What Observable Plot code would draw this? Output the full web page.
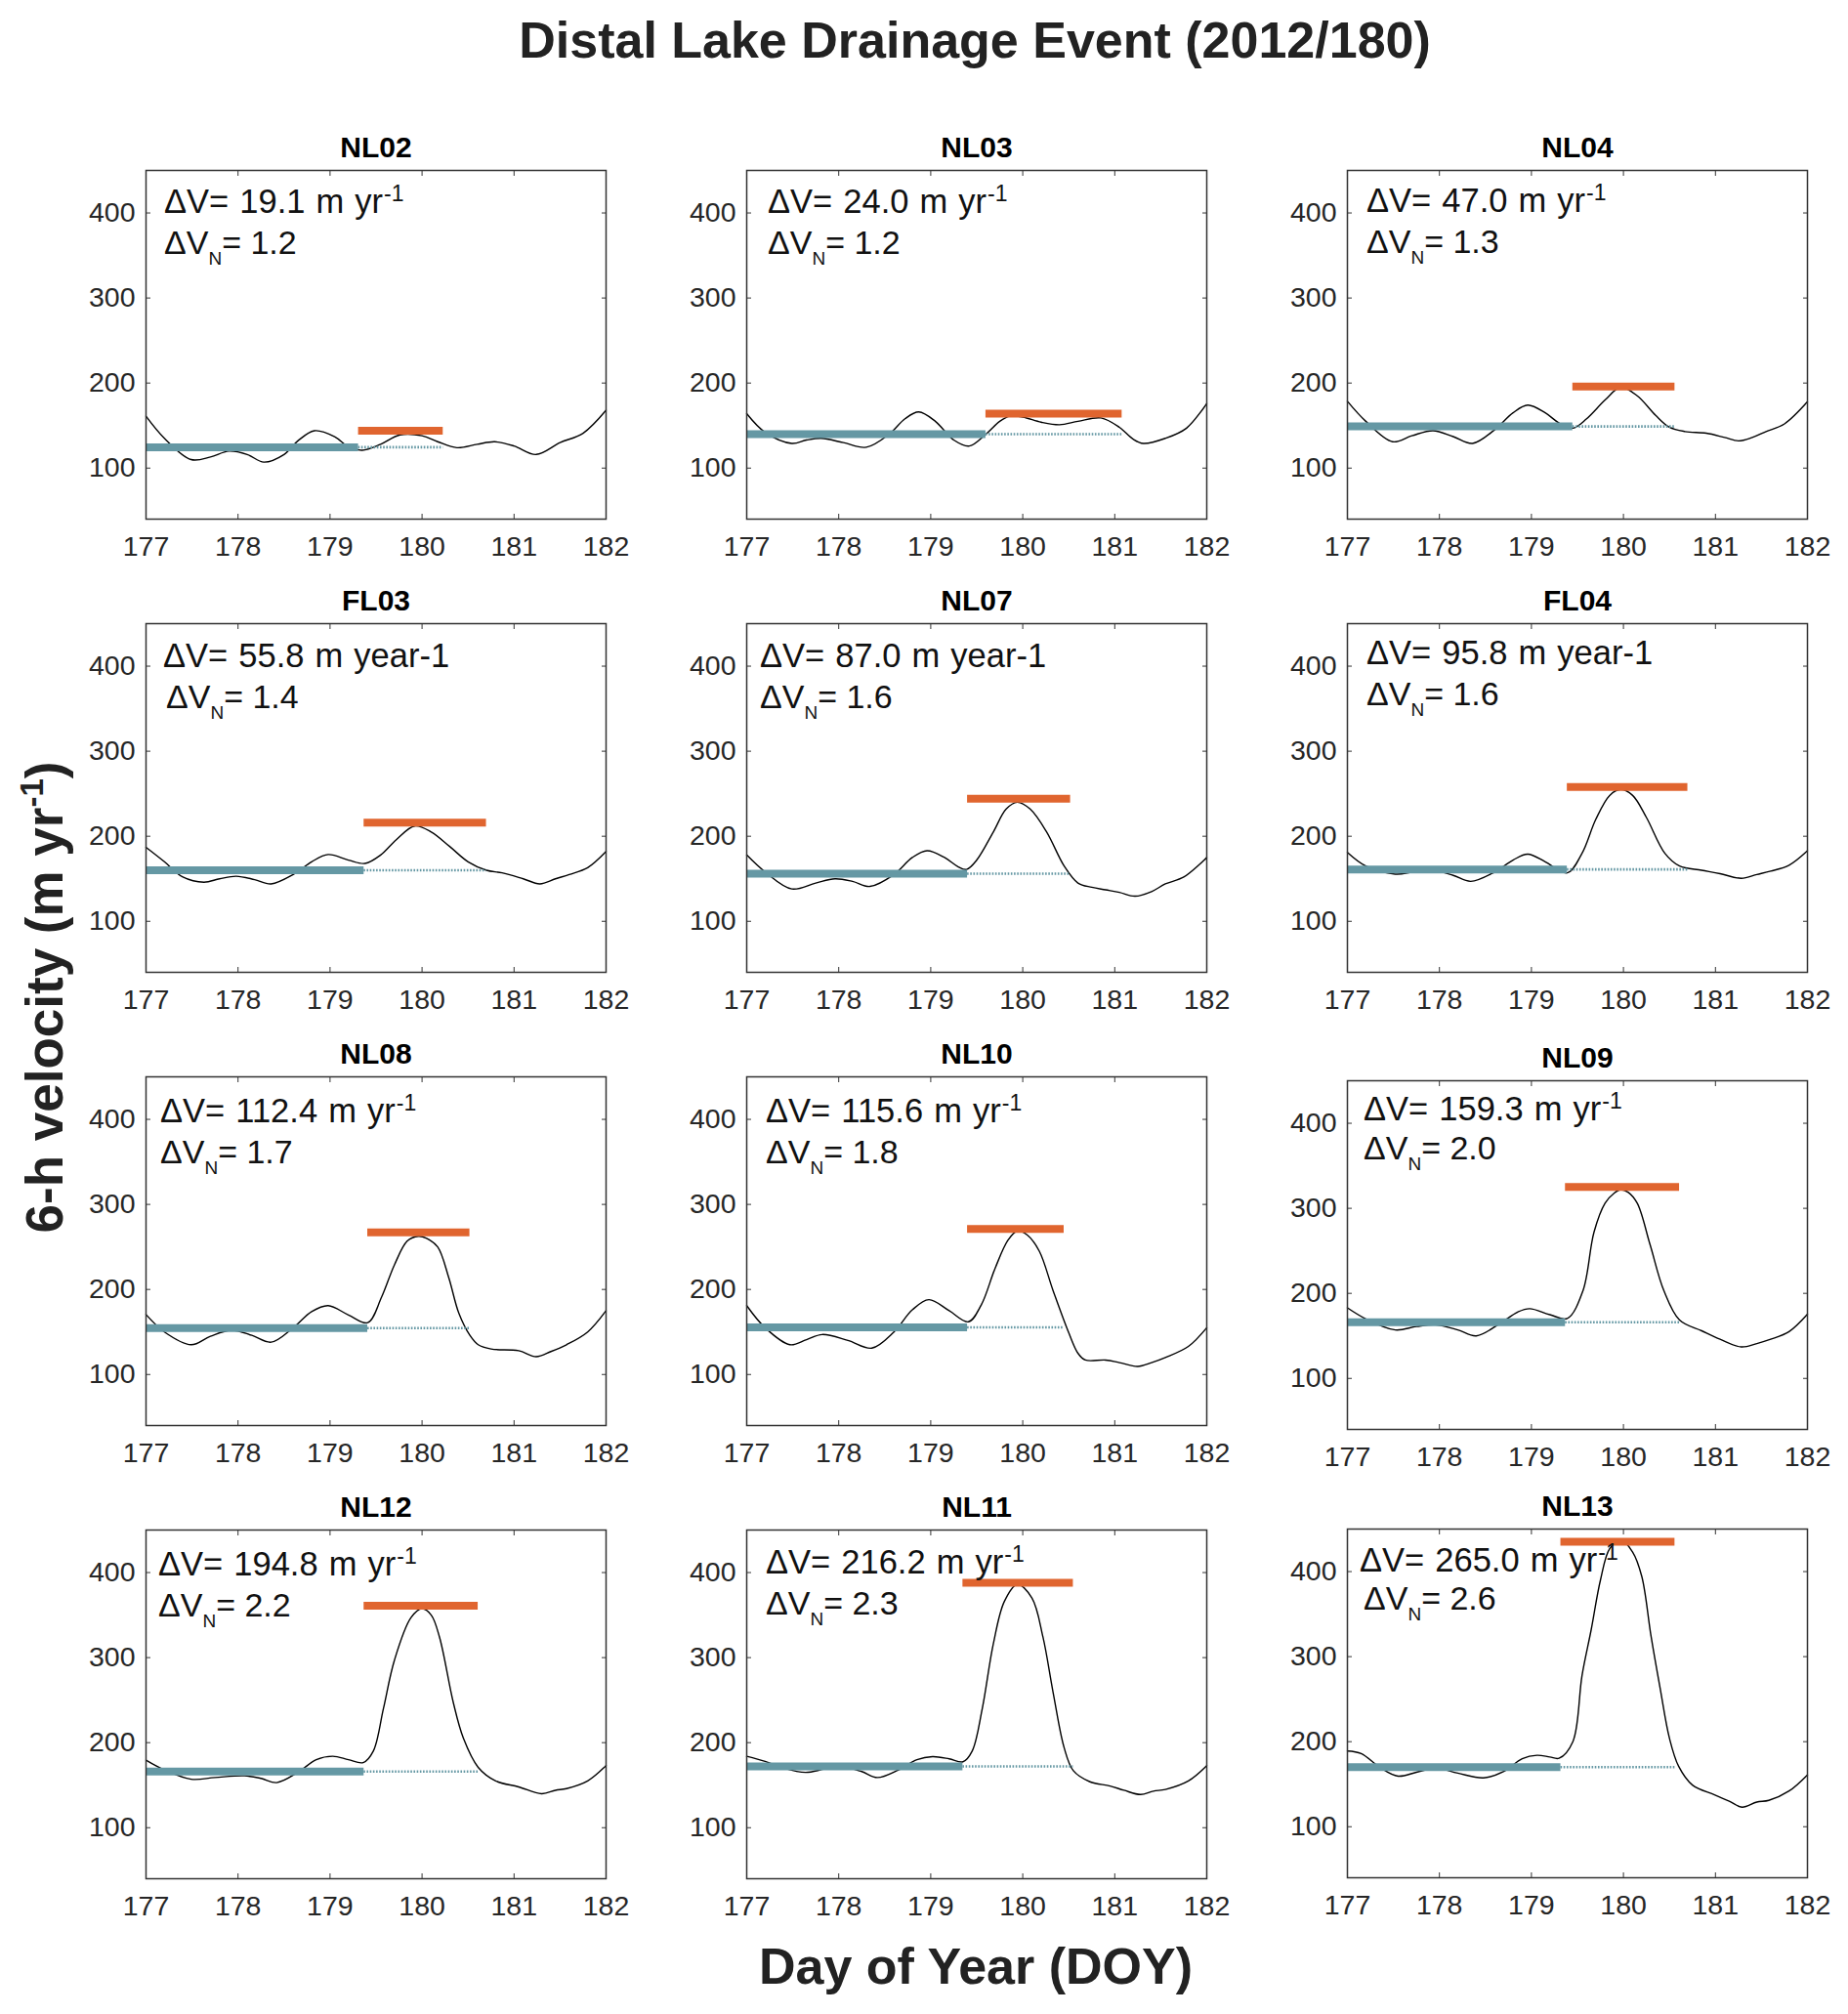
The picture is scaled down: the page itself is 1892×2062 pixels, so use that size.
<!DOCTYPE html>
<html>
<head>
<meta charset="utf-8">
<script src="https://cdn.jsdelivr.net/npm/d3@7"></script>
<script src="https://cdn.jsdelivr.net/npm/@observablehq/plot@0.6"></script>
<style>
  body { margin: 0; background: #fff; }
  #root { position: relative; width: 1892px; height: 2062px; background: #fff; overflow: hidden;
          font-family: "Liberation Sans", Arial, Helvetica, sans-serif; }
  #root svg { position: absolute; overflow: visible; }
</style>
</head>
<body>
<div id="root"></div>
<script>
// ---------------- DATA ----------------
const stations = ["NL02", "NL03", "NL04", "FL03", "NL07", "FL04", "NL08", "NL10", "NL09", "NL12", "NL11", "NL13"];
const dvText   = ["19.1", "24.0", "47.0", "55.8", "87.0", "95.8", "112.4", "115.6", "159.3", "194.8", "216.2", "265.0"];
const dvnText  = ["1.2", "1.2", "1.3", "1.4", "1.6", "1.6", "1.7", "1.8", "2.0", "2.2", "2.3", "2.6"];
const unitMain = ["m yr", "m yr", "m yr", "m year-1", "m year-1", "m year-1", "m yr", "m yr", "m yr", "m yr", "m yr", "m yr"];
const unitSup  = ["-1", "-1", "-1", "", "", "", "-1", "-1", "-1", "-1", "-1", "-1"];

// background (pre-event) mean velocity, event window and peak velocity
const startDay = [177, 177, 177, 177, 177, 177, 177, 177, 177, 177, 177, 177];
const splitDay = [179.31, 179.6, 179.45, 179.37, 179.4, 179.39, 179.41, 179.4, 179.37, 179.37, 179.35, 179.32];
const endDay   = [180.23, 181.08, 180.56, 180.7, 180.52, 180.7, 180.52, 180.45, 180.61, 180.61, 180.55, 180.56];
const baseVel  = [124.5, 140, 149, 160, 156, 161, 154.5, 155.5, 166, 166, 172, 170];
const peakVel  = [144, 164, 196, 216, 244, 258, 267, 271, 325, 361, 388, 435];

// 6-h velocity series [DOY, m/yr]
const NL02 = [[177,161],[177.2,135],[177.49,110],[177.7,113],[177.9,120],[178.1,116],[178.28,107],[178.5,116],[178.65,132],[178.83,144],[179.05,137],[179.2,125],[179.35,121],[179.55,128],[179.76,139],[180,138],[180.17,131],[180.38,124],[180.6,128],[180.79,131],[181,126],[181.24,116],[181.5,130],[181.75,141],[182,168]];
const NL03 = [[177,164],[177.2,142],[177.49,129],[177.65,133],[177.81,135],[178.05,130],[178.3,124.5],[178.55,140],[178.72,158],[178.87,166],[179.05,155],[179.25,133],[179.42,126],[179.6,140],[179.75,155],[179.86,161],[180,160],[180.2,154],[180.4,151],[180.6,155],[180.85,159],[181.05,148],[181.2,134],[181.31,129],[181.55,135],[181.78,147],[182,176]];
const NL04 = [[177,178.5],[177.2,155],[177.49,131],[177.7,138],[177.93,144],[178.15,137],[178.36,129],[178.6,145],[178.8,165],[178.96,174],[179.15,165],[179.3,153],[179.45,147],[179.6,158],[179.8,180],[179.97,195],[180.15,185],[180.35,162],[180.5,148],[180.67,143],[180.9,141],[181.1,136],[181.25,132],[181.4,136],[181.55,143],[181.75,152],[182,178]];
const FL03 = [[177,187],[177.2,170],[177.4,152],[177.63,146],[177.8,150],[177.98,153],[178.18,149],[178.36,144],[178.6,155],[178.8,170],[178.98,178.5],[179.2,172],[179.38,168],[179.55,178],[179.72,196],[179.92,212],[180.1,205],[180.3,188],[180.5,170],[180.7,160],[180.87,157],[181.1,150],[181.28,144],[181.45,150],[181.6,155],[181.8,163],[182,182]];
const NL07 = [[177,178],[177.2,158],[177.49,138],[177.75,145],[177.96,150],[178.15,147],[178.34,141],[178.6,155],[178.8,175],[178.96,183],[179.15,175],[179.3,164],[179.39,161],[179.5,172],[179.68,205],[179.82,232],[179.94,240],[180.08,232],[180.26,205],[180.45,165],[180.6,145],[180.75,140],[180.9,137],[181.05,134],[181.22,129.5],[181.4,135],[181.55,144],[181.75,152],[182,175]];
const FL04 = [[177,181],[177.2,165],[177.52,155.5],[177.72,158],[177.93,160],[178.15,154],[178.34,147],[178.6,158],[178.8,172],[178.96,179],[179.15,170],[179.39,157],[179.55,180],[179.7,220],[179.85,248],[179.97,255],[180.1,248],[180.25,222],[180.45,180],[180.61,165],[180.85,160],[181.05,156],[181.28,150.5],[181.45,155],[181.6,159],[181.8,166],[182,183]];
const NL08 = [[177,170.5],[177.2,150],[177.49,135],[177.7,145],[177.93,152],[178.15,146],[178.36,138],[178.6,155],[178.8,174],[178.98,181],[179.2,170],[179.41,161],[179.56,191],[179.7,229],[179.84,257],[179.96,262.5],[180.05,260],[180.17,250],[180.29,214],[180.4,172],[180.52,146],[180.61,135],[180.75,130],[181.05,128],[181.24,121],[181.4,127],[181.57,135],[181.8,150],[182,175]];
const NL10 = [[177,181],[177.2,155],[177.47,135],[177.65,141],[177.82,147],[178.1,140],[178.36,131],[178.6,150],[178.8,176],[178.98,188],[179.2,175],[179.41,162],[179.55,182],[179.7,225],[179.84,258],[179.94,268.5],[180.05,264],[180.18,245],[180.33,198.5],[180.5,149],[180.6,125],[180.68,117],[180.9,117],[181.05,114],[181.25,109.5],[181.4,114],[181.55,120],[181.8,133],[182,155]];
const NL09 = [[177,183],[177.2,170],[177.52,157],[177.75,161],[177.96,163],[178.2,157],[178.4,150],[178.65,164],[178.85,178],[178.98,182],[179.2,175],[179.39,170.5],[179.56,203],[179.68,272],[179.8,306],[179.9,318],[179.97,322],[180.05,319],[180.15,306],[180.29,257],[180.44,203],[180.61,168.5],[180.85,156],[181.05,146],[181.28,137],[181.45,141],[181.6,146],[181.8,155],[182,175.5]];
const NL12 = [[177,179.5],[177.2,168],[177.49,157],[177.75,159],[178.07,161],[178.25,158],[178.42,153],[178.65,165],[178.85,180],[179.03,184],[179.2,180],[179.36,176.5],[179.47,190],[179.58,240],[179.7,297],[179.88,347],[180,357.5],[180.1,350],[180.19,324],[180.34,247],[180.45,205],[180.61,171],[180.8,155],[181.05,148],[181.3,140],[181.45,144],[181.57,146],[181.8,155],[182,173]];
const NL11 = [[177,184],[177.2,178],[177.4,170],[177.64,165],[177.85,169],[178.05,171.5],[178.25,166],[178.42,159],[178.65,168],[178.85,180],[179.02,183.5],[179.2,181],[179.35,177.5],[179.45,190],[179.56,240],[179.68,316],[179.8,366],[179.94,386],[180.1,370],[180.22,324],[180.33,259],[180.45,194],[180.55,167],[180.73,154],[180.95,149],[181.1,144],[181.28,139],[181.42,143],[181.55,145],[181.8,155],[182,173]];
const NL13 = [[177,189],[177.15,186],[177.35,170],[177.55,159.5],[177.75,164],[177.96,169],[178.2,163],[178.48,157.5],[178.7,165],[178.9,180],[179.06,184],[179.2,182],[179.3,180.5],[179.45,200],[179.55,278],[179.65,332],[179.75,390],[179.85,427],[179.97,437],[180.1,423],[180.2,394],[180.3,324],[180.4,262],[180.5,204],[180.6,171],[180.75,149],[180.99,137.5],[181.15,130],[181.29,123],[181.45,129],[181.58,131],[181.8,142],[182,161]];
const series = [NL02, NL03, NL04, FL03, NL07, FL04, NL08, NL10, NL09, NL12, NL11, NL13];

const xTicks = [177, 178, 179, 180, 181, 182];
const yTicks = [100, 200, 300, 400];
const xDomain = [177, 182];
const yDomain = [40, 450];

// ---------------- LAYOUT / STYLE ----------------
const teal = "#6598a4", orange = "#e0652f";
const FONT = '"Liberation Sans", Arial, Helvetica, sans-serif';
const colLeft = [149, 764, 1379];
const rowTop = [174, 638, 1102, 1566];
const topShift = [0, 0, 0, 0, 0, 0, 0, 0, 4, 0, 0, -1];
const PW = 471, PH = 357;
const mL = 90, mR = 30, mT = 60, mB = 60;
// annotation offsets (px from plot frame)
const ann1x = [19, 22, 20, 18, 14, 20, 15, 20, 17, 13, 20, 13];
const ann2x = [19, 22, 20, 21, 14, 20, 15, 20, 17, 13, 20, 17];
const ann1y = [44, 44, 43, 45, 45, 42, 47, 47, 41, 47, 45, 44];
const ann2y = [86, 86, 85, 87, 87, 84, 89, 89, 81, 89, 87, 83];

const root = document.getElementById("root");

stations.forEach((name, i) => {
  const col = i % 3, row = Math.floor(i / 3);
  const bar = [{start: startDay[i], split: splitDay[i], end: endDay[i], base: baseVel[i], peak: peakVel[i]}];
  const pts = series[i].map(([d, v]) => ({d, v}));
  const svg = Plot.plot({
    width: PW + mL + mR,
    height: PH + mT + mB,
    marginLeft: mL, marginRight: mR, marginTop: mT, marginBottom: mB,
    x: {domain: xDomain},
    y: {domain: yDomain},
    style: {fontFamily: FONT, fontSize: "28px", color: "#262626", background: "transparent", overflow: "visible"},
    marks: [
      Plot.line(pts, {x: "d", y: "v", curve: "catmull-rom", stroke: "#000", strokeWidth: 1.4}),
      Plot.ruleY(bar, {y: "base", x1: "split", x2: "end", stroke: teal, strokeWidth: 2.6, strokeDasharray: "1.6,1.6"}),
      Plot.ruleY(bar, {y: "base", x1: "start", x2: "split", stroke: teal, strokeWidth: 8}),
      Plot.ruleY(bar, {y: "peak", x1: "split", x2: "end", stroke: orange, strokeWidth: 8}),
      Plot.axisX({ticks: xTicks, tickSize: 0, tickPadding: 17, tickFormat: d => String(d), label: null, fontSize: 28.5}),
      Plot.axisY({ticks: yTicks, tickSize: 0, tickPadding: 11, tickFormat: d => String(d), label: null, fontSize: 28.5}),
      Plot.axisX({anchor: "bottom", ticks: xTicks, tickSize: -5, tickFormat: () => "", label: null, stroke: "#333"}),
      Plot.axisX({anchor: "top", ticks: xTicks, tickSize: -5, tickFormat: () => "", label: null, stroke: "#333"}),
      Plot.axisY({anchor: "left", ticks: yTicks, tickSize: -5, tickFormat: () => "", label: null, stroke: "#333"}),
      Plot.axisY({anchor: "right", ticks: yTicks, tickSize: -5, tickFormat: () => "", label: null, stroke: "#333"}),
      Plot.frame({stroke: "#333", strokeWidth: 1.5}),
      Plot.text([name], {frameAnchor: "top", lineAnchor: "bottom", dy: -14, text: d => d,
                         fontWeight: "bold", fontSize: 30, fill: "#000"})
    ]
  });
  svg.style.left = (colLeft[col] - mL) + "px";
  svg.style.top = (rowTop[row] + topShift[i] - mT) + "px";

  // annotation text (with sub/superscripts)
  const g = d3.select(svg).append("g").attr("font-family", FONT).attr("fill", "#111")
    .attr("text-anchor", "start");
  const t1 = g.append("text").attr("x", mL + ann1x[i]).attr("y", mT + ann1y[i]).attr("font-size", 34.5)
    .attr("text-anchor", "start").attr("word-spacing", "1.5px");
  t1.append("tspan").text(`\u0394V= ${dvText[i]} ${unitMain[i]}`);
  if (unitSup[i]) t1.append("tspan").attr("dy", -12).attr("dx", 1).attr("font-size", 23).text(unitSup[i]);
  const t2 = g.append("text").attr("x", mL + ann2x[i]).attr("y", mT + ann2y[i]).attr("font-size", 34)
    .attr("text-anchor", "start");
  t2.append("tspan").text("\u0394V");
  t2.append("tspan").attr("dy", 11).attr("font-size", 19).text("N");
  t2.append("tspan").attr("dy", -11).text(`= ${dvnText[i]}`);

  root.appendChild(svg);
});

// ---------------- PAGE TITLES ----------------
const page = d3.select(root).append("svg")
  .attr("width", 1892).attr("height", 2062)
  .style("left", "0px").style("top", "0px").style("pointer-events", "none")
  .attr("font-family", FONT);
page.append("text").attr("x", 998).attr("y", 59).attr("text-anchor", "middle")
  .attr("font-size", 52).attr("font-weight", "bold").attr("fill", "#222")
  .text("Distal Lake Drainage Event (2012/180)");
page.append("text").attr("x", 999).attr("y", 2031).attr("text-anchor", "middle")
  .attr("font-size", 52).attr("font-weight", "bold").attr("fill", "#222")
  .text("Day of Year (DOY)");
const yl = page.append("text").attr("transform", "translate(64,1021) rotate(-90)")
  .attr("text-anchor", "middle").attr("font-size", 53).attr("font-weight", "bold").attr("fill", "#222");
yl.append("tspan").text("6-h velocity (m yr");
yl.append("tspan").attr("dy", -20).attr("font-size", 33).text("-1");
yl.append("tspan").attr("dy", 20).text(")");
</script>
</body>
</html>
